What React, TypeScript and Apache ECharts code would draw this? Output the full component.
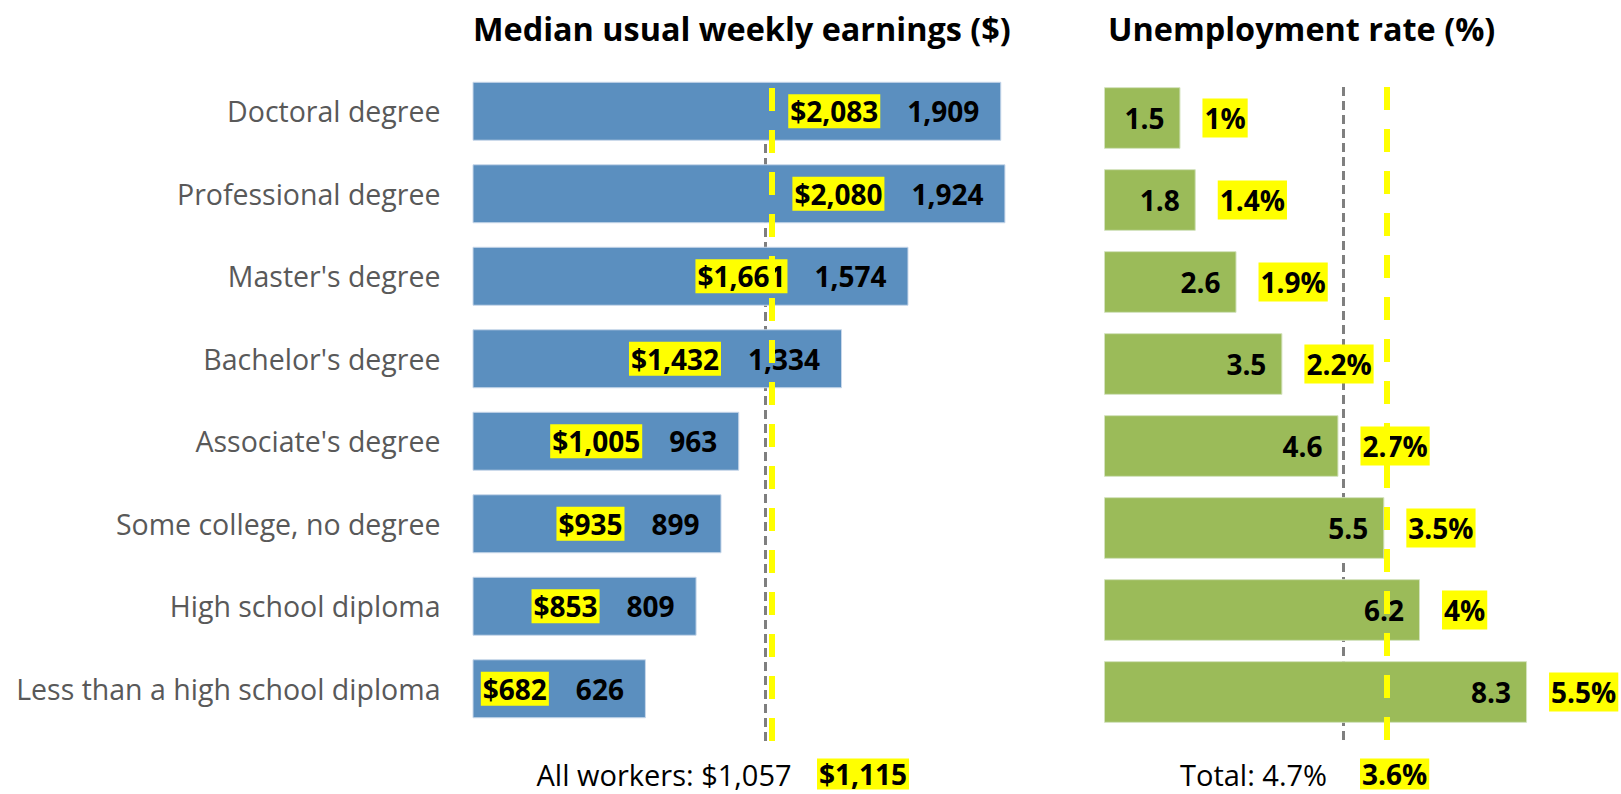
import React, { useEffect, useRef } from "react";
import * as echarts from "echarts";

const categories = [
  "Doctoral degree",
  "Professional degree",
  "Master's degree",
  "Bachelor's degree",
  "Associate's degree",
  "Some college, no degree",
  "High school diploma",
  "Less than a high school diploma",
];
const earnings = [1909, 1924, 1574, 1334, 963, 899, 809, 626];
const earningsNew = [2083, 2080, 1661, 1432, 1005, 935, 853, 682];
const unemployment = [1.5, 1.8, 2.6, 3.5, 4.6, 5.5, 6.2, 8.3];
const unemploymentNew = [1, 1.4, 1.9, 2.2, 2.7, 3.5, 4, 5.5];
const allWorkers = 1057;
const allWorkersNew = 1115;
const totalRate = 4.7;
const totalRateNew = 3.6;
const earningsYellowLine = 1082;
const rateYellowLine = 5.55;

const FONT = "'Open Sans', sans-serif";
const fmt = (v: number) => v.toLocaleString("en-US");

export default function App() {
  const ref = useRef<HTMLDivElement>(null);
  useEffect(() => {
    if (!ref.current) return;
    const chart = echarts.init(ref.current, undefined, { renderer: "svg" });
    const boldText = { color: "#000", fontWeight: "bold" as const, fontSize: 28, fontFamily: FONT };
    const grayLine = { color: "#7f7f7f", type: [9, 5], width: 3 };
    const yellowLine = { color: "#FFFF00", type: [23, 19], width: 6 };
    const option: any = {
      animation: false,
      backgroundColor: "#ffffff",
      grid: [
        { left: 472.5, top: 70, width: 554, height: 660 },
        { left: 1104, top: 77, width: 509.7, height: 656 },
        { left: 472.5, top: 84, width: 554, height: 657 },
        { left: 1104, top: 85, width: 509.7, height: 655 },
      ],
      xAxis: [
        { gridIndex: 0, type: "value", min: 0, max: 2000, show: false },
        { gridIndex: 1, type: "value", min: 0, max: 10, show: false },
        { gridIndex: 2, type: "value", min: 0, max: 2000, show: false },
        { gridIndex: 3, type: "value", min: 0, max: 10, show: false },
      ],
      yAxis: [
        {
          gridIndex: 0,
          type: "category",
          data: categories,
          inverse: true,
          axisLine: { show: false },
          axisTick: { show: false },
          splitLine: { show: false },
          axisLabel: { margin: 32, color: "#595959", fontSize: 28.5, fontFamily: FONT },
        },
        { gridIndex: 1, type: "category", data: categories, inverse: true, show: false },
        { gridIndex: 2, type: "value", min: 0, max: 1, show: false },
        { gridIndex: 3, type: "value", min: 0, max: 1, show: false },
      ],
      series: [
        {
          type: "bar",
          xAxisIndex: 0,
          yAxisIndex: 0,
          data: earnings,
          barWidth: 59,
          z: 2,
          itemStyle: { color: "#5b8fbf", borderColor: "#c9d8ea", borderWidth: 1 },
          label: {
            show: true,
            position: "insideRight",
            distance: 22,
            formatter: (p: any) =>
              `{y|$${fmt(earningsNew[p.dataIndex])}}{s| }{v|${fmt(p.value)}}`,
            rich: {
              y: { ...boldText, backgroundColor: "#FFFF00", padding: [3, 2, 3, 2], lineHeight: 33 },
              s: { width: 27, fontSize: 10 },
              v: { ...boldText, lineHeight: 33 },
            },
          },
        },
        {
          type: "line",
          xAxisIndex: 2,
          yAxisIndex: 2,
          data: [],
          z: 1,
          markLine: {
            silent: true,
            z: 1,
            symbol: "none",
            label: { show: false },
            lineStyle: grayLine,
            data: [{ xAxis: allWorkers }],
          },
        },
        {
          type: "line",
          xAxisIndex: 2,
          yAxisIndex: 2,
          data: [],
          z: 10,
          markLine: {
            silent: true,
            z: 10,
            symbol: "none",
            label: { show: false },
            lineStyle: yellowLine,
            data: [{ xAxis: earningsYellowLine }],
          },
        },
        {
          type: "bar",
          xAxisIndex: 1,
          yAxisIndex: 1,
          data: unemployment,
          barWidth: 61.7,
          barGap: "-100%",
          z: 2,
          itemStyle: { color: "#9bbb59", borderColor: "#d3e2bd", borderWidth: 1 },
          label: {
            show: true,
            position: "insideRight",
            distance: 16,
            formatter: (p: any) => `${p.value}`,
            ...boldText,
          },
        },
        {
          type: "bar",
          xAxisIndex: 1,
          yAxisIndex: 1,
          data: unemployment,
          barWidth: 61.7,
          barGap: "-100%",
          z: 3,
          silent: true,
          itemStyle: { color: "rgba(0,0,0,0)" },
          label: {
            show: true,
            position: "right",
            distance: 22,
            formatter: (p: any) => `${unemploymentNew[p.dataIndex]}%`,
            ...boldText,
            backgroundColor: "#FFFF00",
            padding: [3, 2, 3, 2],
            lineHeight: 33,
          },
        },
        {
          type: "line",
          xAxisIndex: 3,
          yAxisIndex: 3,
          data: [],
          z: 1,
          markLine: {
            silent: true,
            z: 1,
            symbol: "none",
            label: { show: false },
            lineStyle: grayLine,
            data: [{ xAxis: totalRate }],
          },
        },
        {
          type: "line",
          xAxisIndex: 3,
          yAxisIndex: 3,
          data: [],
          z: 10,
          markLine: {
            silent: true,
            z: 10,
            symbol: "none",
            label: { show: false },
            lineStyle: yellowLine,
            data: [{ xAxis: rateYellowLine }],
          },
        },
      ],
      graphic: [
        {
          type: "text",
          x: 473,
          y: 28,
          style: {
            text: "Median usual weekly earnings ($)",
            font: `bold 32.4px ${FONT}`,
            fill: "#000",
            align: "left",
            verticalAlign: "middle",
          },
        },
        {
          type: "text",
          x: 1108,
          y: 28,
          style: {
            text: "Unemployment rate (%)",
            font: `bold 32.4px ${FONT}`,
            fill: "#000",
            align: "left",
            verticalAlign: "middle",
          },
        },
        {
          type: "text",
          x: 536.5,
          y: 774,
          style: {
            text: `All workers: $${fmt(allWorkers)}`,
            font: `29px ${FONT}`,
            fill: "#000",
            align: "left",
            verticalAlign: "middle",
          },
        },
        {
          type: "text",
          x: 817,
          y: 774,
          style: {
            text: `$${fmt(allWorkersNew)}`,
            font: `bold 28px ${FONT}`,
            fill: "#000",
            align: "left",
            verticalAlign: "middle",
            backgroundColor: "#FFFF00",
            padding: [2, 2, 1, 2],
          },
        },
        {
          type: "text",
          x: 1180,
          y: 774,
          style: {
            text: `Total: ${totalRate}%`,
            font: `29px ${FONT}`,
            fill: "#000",
            align: "left",
            verticalAlign: "middle",
          },
        },
        {
          type: "text",
          x: 1360,
          y: 774,
          style: {
            text: `${totalRateNew}%`,
            font: `bold 28px ${FONT}`,
            fill: "#000",
            align: "left",
            verticalAlign: "middle",
            backgroundColor: "#FFFF00",
            padding: [2, 2, 1, 2],
          },
        },
      ],
    };
    chart.setOption(option);
    return () => chart.dispose();
  }, []);
  return (
    <div
      ref={ref}
      style={{ position: "fixed", left: 0, top: 0, width: 1621, height: 794, background: "#fff" }}
    />
  );
}
